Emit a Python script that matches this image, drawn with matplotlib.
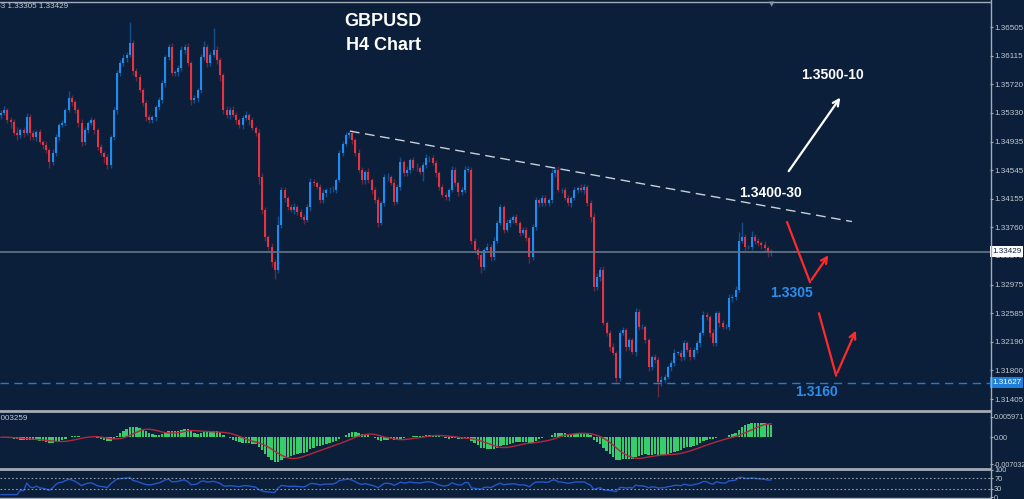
"""
GBPUSD H4 candlestick chart with MACD and RSI panels (MT4 style)
"""
import numpy as np
import pandas as pd
import matplotlib
matplotlib.use("Agg")
import matplotlib.pyplot as plt
import matplotlib.transforms as mtransforms
from matplotlib.lines import Line2D

# closing prices of each H4 bar
closes = [
    1.3533, 1.3537, 1.3523, 1.3520, 1.3505, 1.3502, 1.3509, 1.3505, 1.3527, 1.3505,
    1.3500, 1.3507, 1.3493, 1.3489, 1.3482, 1.3465, 1.3478, 1.3500, 1.3516,
    1.3519, 1.3537, 1.3553, 1.3548, 1.3537, 1.3519, 1.3493, 1.3509, 1.3519,
    1.3523, 1.3509, 1.3486, 1.3478, 1.3472, 1.3461, 1.3500, 1.3537, 1.3587, 1.3601,
    1.3608, 1.3612, 1.3629, 1.3591, 1.3582, 1.3564, 1.3546, 1.3527, 1.3523,
    1.3527, 1.3541, 1.3550, 1.3574, 1.3609, 1.3623, 1.3587, 1.3589, 1.3594,
    1.3619, 1.3623, 1.3601, 1.3550, 1.3553, 1.3564, 1.3609, 1.3623, 1.3601,
    1.3612, 1.3619, 1.3605, 1.3585, 1.3537, 1.3530, 1.3537, 1.3530, 1.3523, 1.3516,
    1.3526, 1.3530, 1.3523, 1.3512, 1.3505, 1.3445, 1.3400, 1.3363, 1.3349, 1.3328,
    1.3317, 1.3379, 1.3427, 1.3416, 1.3404, 1.3400, 1.3404, 1.3397, 1.3390, 1.3386,
    1.3404, 1.3438, 1.3437, 1.3431, 1.3413, 1.3423, 1.3427, 1.3427, 1.3427, 1.3441,
    1.3478, 1.3491, 1.3502, 1.3505, 1.3496, 1.3478, 1.3455, 1.3441, 1.3452, 1.3441,
    1.3427, 1.3413, 1.3382, 1.3409, 1.3445, 1.3445, 1.3437, 1.3411, 1.3431, 1.3465,
    1.3450, 1.3455, 1.3468, 1.3458, 1.3457, 1.3452, 1.3461, 1.3471, 1.3471, 1.3464,
    1.3450, 1.3431, 1.3420, 1.3417, 1.3427, 1.3455, 1.3437, 1.3424, 1.3427, 1.3455,
    1.3455, 1.3358, 1.3345, 1.3338, 1.3321, 1.3345, 1.3349, 1.3335, 1.3358, 1.3382,
    1.3404, 1.3372, 1.3382, 1.3386, 1.3390, 1.3382, 1.3368, 1.3372, 1.3361, 1.3335,
    1.3376, 1.3413, 1.3409, 1.3416, 1.3409, 1.3413, 1.3450, 1.3455, 1.3427, 1.3427,
    1.3416, 1.3409, 1.3416, 1.3427, 1.3430, 1.3427, 1.3431, 1.3409, 1.3390, 1.3294,
    1.3308, 1.3317, 1.3245, 1.3231, 1.3212, 1.3204, 1.3169, 1.3231, 1.3235, 1.3212,
    1.3221, 1.3205, 1.3260, 1.3239, 1.3239, 1.3221, 1.3184, 1.3198, 1.3194, 1.3164,
    1.3167, 1.3171, 1.3184, 1.3190, 1.3204, 1.3204, 1.3198, 1.3217, 1.3208, 1.3198,
    1.3208, 1.3217, 1.3231, 1.3256, 1.3253, 1.3231, 1.3217, 1.3258, 1.3245, 1.3239,
    1.3239, 1.3279, 1.3281, 1.3290, 1.3358, 1.3363, 1.3349, 1.3349, 1.3363, 1.3358,
    1.3354, 1.3352, 1.3348, 1.3341, 1.3343,
]
first_open = 1.3530

# upper / lower wick length in pips
wick_up = [
    4, 6, 3, 5, 4, 8, 3, 5, 6, 4,
    5, 3, 4, 3, 6, 3, 5, 4, 3,
    4, 3, 10, 5, 3, 3, 5, 4, 3,
    4, 3, 3, 5, 3, 4, 3, 4, 5, 4,
    6, 5, 28, 4, 3, 4, 3, 4, 5,
    3, 3, 5, 4, 3, 4, 6, 3, 4,
    5, 4, 6, 3, 4, 3, 5, 8, 4,
    5, 30, 6, 4, 3, 5, 4, 6, 4, 3,
    4, 5, 3, 4, 3, 6, 5, 4, 3, 5,
    5, 12, 4, 5, 3, 4, 6, 3, 4, 5,
    4, 6, 5, 3, 4, 5, 3, 4, 6, 3,
    4, 3, 5, 3, 4, 3, 5, 4, 3, 6,
    3, 4, 5, 3, 4, 5, 3, 6, 4, 8,
    4, 5, 3, 4, 6, 3, 4, 5, 3, 4,
    4, 3, 5, 4, 3, 5, 4, 3, 4, 5,
    5, 4, 3, 4, 5, 3, 6, 4, 5, 4,
    4, 3, 5, 4, 3, 4, 3, 5, 4, 3,
    5, 4, 3, 4, 5, 3, 6, 4, 5, 3,
    4, 5, 3, 4, 3, 5, 4, 3, 5, 6,
    5, 4, 6, 3, 4, 5, 3, 4, 5, 3,
    4, 3, 6, 4, 5, 3, 4, 3, 5, 4,
    5, 4, 3, 4, 5, 3, 4, 5, 3, 4,
    4, 5, 3, 6, 4, 3, 5, 4, 3, 4,
    4, 5, 3, 6, 12, 20, 4, 3, 8, 4,
    4, 3, 5, 3, 4,
]
wick_dn = [
    5, 3, 4, 8, 3, 6, 4, 5, 3, 9,
    4, 5, 3, 6, 4, 8, 3, 4, 5,
    3, 4, 3, 5, 4, 6, 5, 4, 3,
    3, 5, 4, 4, 8, 5, 3, 4, 5, 3,
    4, 5, 3, 6, 5, 3, 4, 5, 4,
    4, 5, 4, 3, 6, 4, 4, 3, 5,
    3, 5, 4, 6, 3, 5, 4, 4, 5,
    4, 3, 5, 8, 5, 4, 6, 3, 5, 4,
    5, 3, 6, 3, 4, 10, 6, 5, 4, 6,
    12, 3, 4, 5, 4, 3, 5, 4, 3, 5,
    3, 5, 4, 3, 4, 3, 5, 4, 3, 4,
    3, 4, 3, 4, 5, 4, 3, 5, 6, 4,
    5, 4, 6, 3, 4, 5, 3, 4, 3, 4,
    3, 4, 5, 3, 4, 3, 12, 4, 5, 3,
    5, 4, 3, 4, 5, 3, 4, 5, 3, 4,
    3, 5, 4, 6, 7, 4, 3, 5, 4, 3,
    3, 4, 3, 5, 4, 3, 4, 3, 4, 8,
    4, 3, 5, 3, 4, 3, 4, 5, 3, 4,
    3, 4, 5, 3, 4, 3, 5, 4, 6, 5,
    4, 5, 3, 4, 5, 3, 5, 4, 3, 5,
    4, 3, 5, 4, 3, 4, 5, 3, 4, 20,
    5, 4, 3, 5, 4, 3, 5, 4, 3, 4,
    3, 4, 5, 3, 4, 5, 3, 4, 5, 3,
    3, 4, 5, 4, 3, 4, 5, 3, 4, 5,
    3, 5, 4, 6, 4,
]

price_ticks = [1.36505, 1.36115, 1.35720, 1.35330, 1.34935, 1.34545, 1.34155,
               1.33760, 1.33370, 1.32975, 1.32585, 1.32190, 1.31800, 1.31405]
last_price = 1.33429
support_price = 1.31627
macd_max, macd_min = 0.005971, -0.007032
macd_labels = ["0.005971", "0.00", "-0.007032"]
rsi_levels = [30, 70]
rsi_ticks = [0, 30, 70, 100]

# trendline over the highs (bar index, price)
trend_start = (108.3, 1.3508)
trend_end = (264.1, 1.3384)

# scenario annotations (bar index, price)
bull_tail, bull_head = (244.0, 1.3450), (261.0, 1.3557)
red1 = [(244.0, 1.3383), (251.1, 1.3301), (257.3, 1.3341)]
red2 = [(253.9, 1.3258), (259.2, 1.3173), (265.7, 1.3238)]

BG = "#0b1f3a"
UP = "#1e8cf0"
DOWN = "#e23445"
GRID = "#a3abb5"
TXT = "#c3cad2"
FONT = "Liberation Sans"
LBL = 5.8

closes = np.array(closes)
opens = np.r_[first_open, closes[:-1]]
highs = np.maximum(opens, closes) + np.array(wick_up) * 1e-4
lows = np.minimum(opens, closes) - np.array(wick_dn) * 1e-4
x = np.arange(len(closes))

# indicators from the closes
s = pd.Series(closes)
macd = s.ewm(span=12, adjust=False).mean() - s.ewm(span=26, adjust=False).mean()
signal = macd.rolling(9, min_periods=1).mean()
delta = s.diff()
gain = delta.clip(lower=0).ewm(alpha=1 / 14, adjust=True, min_periods=5).mean()
loss = (-delta.clip(upper=0)).ewm(alpha=1 / 14, adjust=True, min_periods=5).mean()
rsi = (100 - 100 / (1 + gain / loss)).bfill()

W, H = 1024, 499
PX_BAR = 770 / (len(closes) - 1)


def rect(x0, y0, x1, y1):
    return [x0 / W, 1 - y1 / H, (x1 - x0) / W, (y1 - y0) / H]


fig = plt.figure(figsize=(W / 100, H / 100), dpi=100)
fig.patch.set_facecolor(BG)

ax = fig.add_axes(rect(0, 2, 990, 409))
ax_macd = fig.add_axes(rect(0, 412, 990, 467))
ax_rsi = fig.add_axes(rect(0, 470, 990, 497))

for a in (ax, ax_macd, ax_rsi):
    a.set_facecolor(BG)
    for sp in a.spines.values():
        sp.set_visible(False)
    a.set_xticks([])
    a.yaxis.tick_right()
    a.tick_params(axis="y", colors=GRID, labelcolor=TXT, labelsize=LBL,
                  length=2, width=0.8, pad=1.5)
    a.set_xlim(-1 / PX_BAR, 989 / PX_BAR)

# candles
up = closes >= opens
body = np.abs(closes - opens)
body = np.where(body < 0.00006, 0.00006, body)
bottom = np.minimum(opens, closes)
for mask, col in ((up, UP), (~up, DOWN)):
    ax.vlines(x[mask], lows[mask], highs[mask], color=col, alpha=0.45, lw=1)
    ax.bar(x[mask], body[mask], bottom=bottom[mask], width=0.62, color=col,
           linewidth=0)

ax.set_ylim(1.3127, 1.3685)
ax.set_yticks(price_ticks)
ax.set_yticklabels([f"{p:.5f}" for p in price_ticks], family=FONT)

ax.axhline(last_price, color="#5f7183", lw=1.3)
ax.axhline(support_price, color="#2a78c8", lw=1, ls=(0, (6, 4)))
ax.plot([trend_start[0], trend_end[0]], [trend_start[1], trend_end[1]],
        color="#c9d0d8", lw=1, ls=(0, (7, 4)))

blend = mtransforms.blended_transform_factory(ax.transAxes, ax.transData)
ax.text(1.002, last_price, f"{last_price:.5f}", transform=blend, ha="left",
        va="center", fontsize=LBL, color="#0b1f3a", family=FONT,
        bbox=dict(boxstyle="square,pad=0.25", fc="white", ec="none"))
ax.text(1.002, support_price, f"{support_price:.5f}", transform=blend,
        ha="left", va="center", fontsize=LBL, color="white", family=FONT,
        bbox=dict(boxstyle="square,pad=0.25", fc="#1f7fd9", ec="none"))

# scenario arrows and labels
bold = dict(fontweight="bold", family=FONT, ha="center", va="center")
ax.annotate("", xy=bull_head, xytext=bull_tail,
            arrowprops=dict(arrowstyle="->", color="white", lw=1.6,
                            mutation_scale=11))
for pts in (red1, red2):
    ax.plot([pts[0][0], pts[1][0]], [pts[0][1], pts[1][1]], color="#ff2a2a", lw=1.6)
    ax.annotate("", xy=pts[2], xytext=pts[1],
                arrowprops=dict(arrowstyle="->", color="#ff2a2a", lw=1.6,
                                mutation_scale=11))
ax.text(258.2, 1.3585, "1.3500-10", color="white", fontsize=10, **bold)
ax.text(238.7, 1.3423, "1.3400-30", color="white", fontsize=10, **bold)
ax.text(245.5, 1.3286, "1.3305", color="#2b8ff0", fontsize=10, **bold)
ax.text(253.0, 1.3150, "1.3160", color="#2b8ff0", fontsize=10, **bold)

fig.text(383 / W, 1 - 22 / H, "GBPUSD", color="white", fontsize=13, **bold)
fig.text(383 / W, 1 - 45 / H, "H4 Chart", color="white", fontsize=13, **bold)

# MACD panel
ax_macd.bar(x, macd, width=0.75, color="#37cc6c", linewidth=0)
ax_macd.plot(x, signal, color="#b3283c", lw=1)
ax_macd.set_ylim(macd_min, macd_max)
ax_macd.set_yticks([macd_max * 0.82, 0.0, macd_min * 0.9])
ax_macd.set_yticklabels(macd_labels, family=FONT)
ax_macd.tick_params(axis="y", labelsize=5.2, pad=1)

# RSI panel
ax_rsi.plot(x, rsi, color="#2456c8", lw=1)
for lvl in rsi_levels:
    ax_rsi.axhline(lvl, color="#8f9aa6", lw=0.8, ls=(0, (1.5, 2)))
ax_rsi.set_ylim(0, 100)
ax_rsi.set_yticks(rsi_ticks)
ax_rsi.set_yticklabels([str(t) for t in rsi_ticks], family=FONT)
ax_rsi.tick_params(axis="y", labelsize=5.3, pad=1)


# panel borders
def hline_px(y, x0=0, x1=990, lw=1.0, col=GRID):
    fig.add_artist(Line2D([x0 / W, x1 / W], [1 - y / H, 1 - y / H], color=col, lw=lw))


hline_px(1.5, lw=1.0)
hline_px(410.5, lw=2.0)
hline_px(468.5, lw=2.0)
hline_px(497.5, lw=1.0)
fig.add_artist(Line2D([990.5 / W] * 2, [0, 1], color=GRID, lw=1.0))
for tx in range(22, 990, 56):
    fig.add_artist(Line2D([tx / W] * 2, [0, 1.5 / H], color=GRID, lw=0.8))

fig.text(772 / W, 1 - 4 / H, "▼", color="#8493a3", fontsize=5, ha="center", va="center")
fig.text(68 / W, 1 - 7 / H, "1.33363 1.33305 1.33429", color=TXT, fontsize=LBL,
         family=FONT, ha="right", va="center")
fig.text(28 / W, 1 - 418 / H, "0.003259", color=TXT, fontsize=LBL,
         family=FONT, ha="right", va="center")

fig.savefig("out.png", dpi=100, facecolor=BG)
